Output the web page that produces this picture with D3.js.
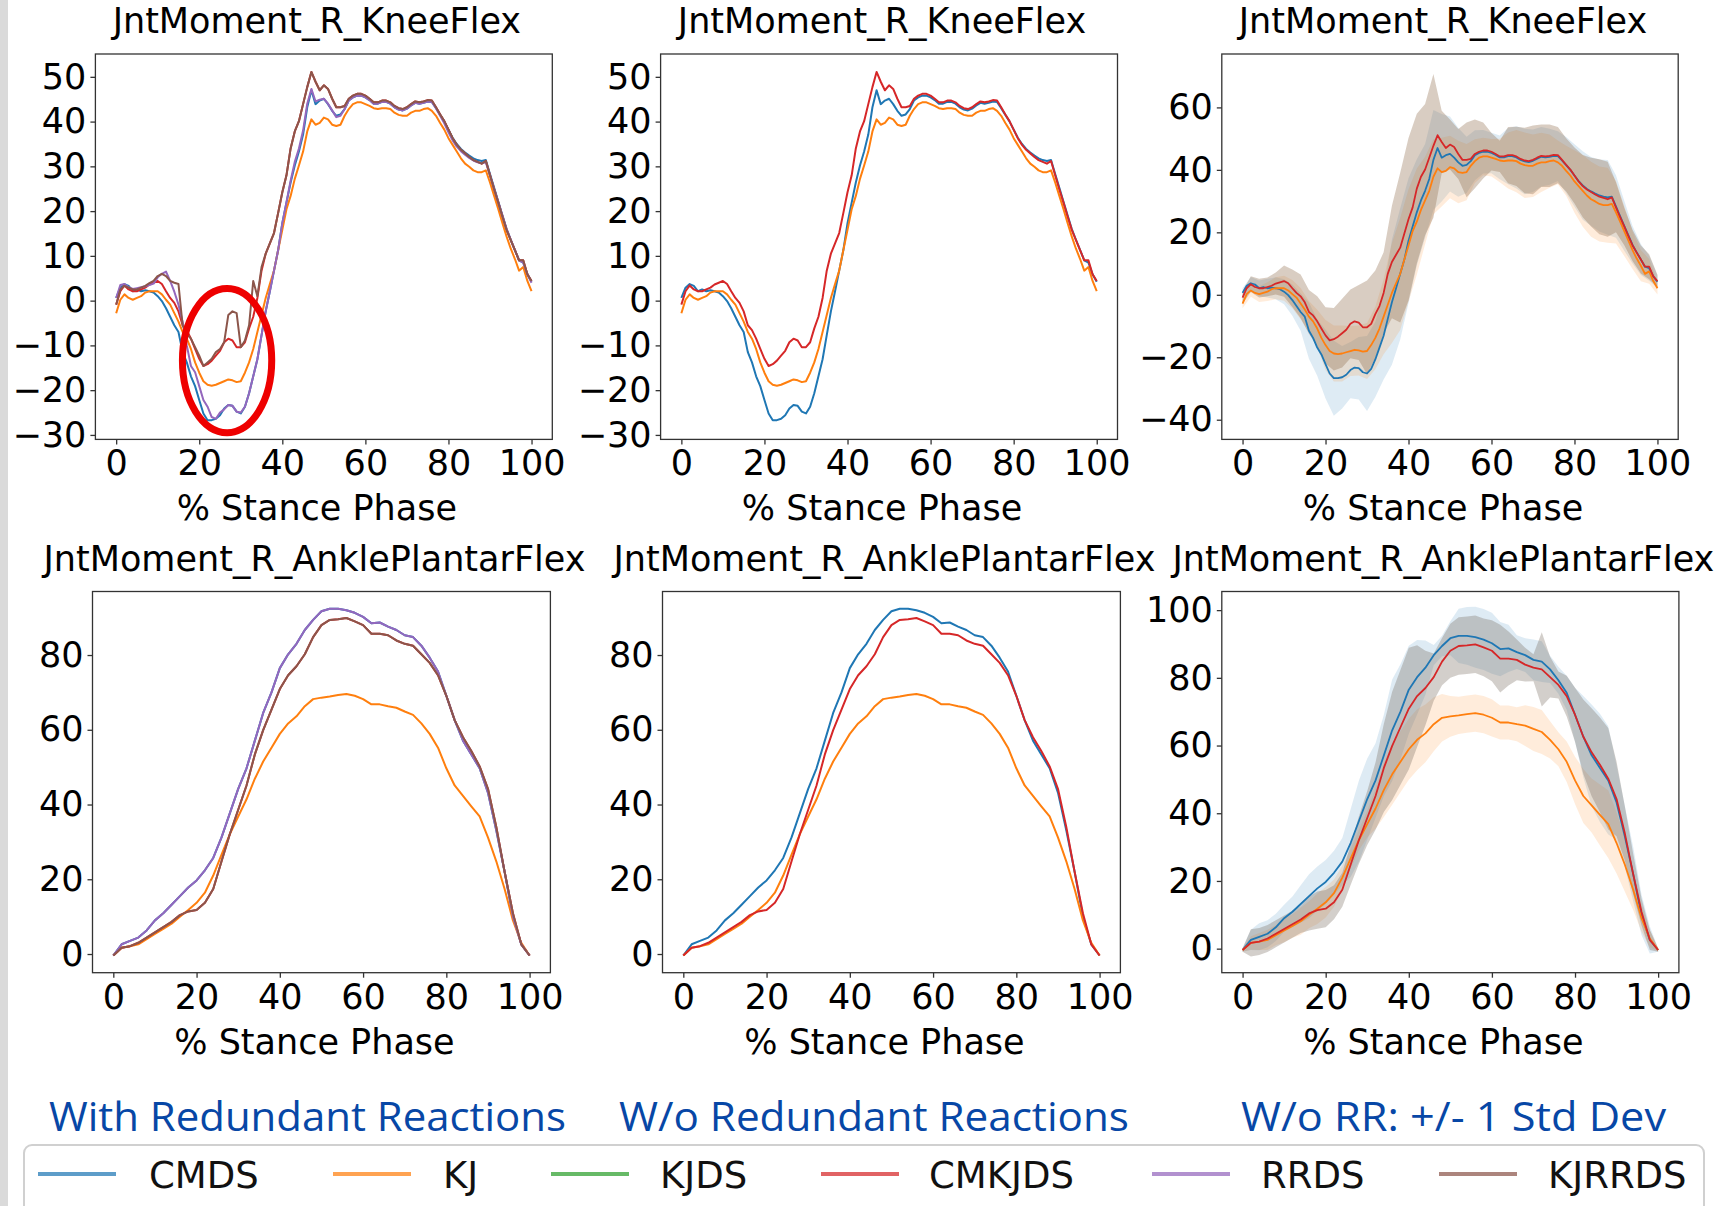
<!DOCTYPE html>
<html>
<head>
<meta charset="utf-8">
<script src="https://cdn.jsdelivr.net/npm/d3@7"></script>
<style>
  html, body { margin: 0; padding: 0; background: #fff; }
  svg { display: block; }
</style>
</head>
<body>
<div id="chart"></div>
<script>
// ---------------------------------------------------------------
// Data
// ---------------------------------------------------------------
const series_names = ['CMDS', 'KJ', 'KJDS', 'CMKJDS', 'RRDS', 'KJRRDS'];
const series_colors = ['#1f77b4', '#ff7f0e', '#2ca02c', '#d62728', '#9467bd', '#8c564b'];

const x_ticks = [0, 20, 40, 60, 80, 100];
const y_ticks_knee = [-30, -20, -10, 0, 10, 20, 30, 40, 50];
const y_ticks_knee_sd = [-40, -20, 0, 20, 40, 60];
const y_ticks_ankle = [0, 20, 40, 60, 80];
const y_ticks_ankle_sd = [0, 20, 40, 60, 80, 100];

const panel_titles = ['JntMoment_R_KneeFlex', 'JntMoment_R_AnklePlantarFlex'];
const column_titles = ['With Redundant Reactions', 'W/o Redundant Reactions', 'W/o RR: +/- 1 Std Dev'];
const x_label = '% Stance Phase';

// % stance grids
const pct_1 = d3.range(0, 101, 1);
const pct_2 = d3.range(0, 101, 2);

// knee flexion moment, every 1 %
const knee_cmds = [
  0.6, 2.9, 3.7, 3.3, 2.1, 2.5, 2.1, 2.3, 2.1, 1.8,
  1.0, -0.1, -1.7, -3.6, -5.5, -7.0, -11.5, -13.8, -16.9, -19.1,
  -22.2, -25.2, -26.7, -26.7, -26.4, -25.6, -24.1, -23.3, -23.5, -24.8,
  -25.2, -23.7, -20.7, -16.9, -13.1, -7.7, -2.4, 2.1, 6.7, 11.3,
  17.3, 21.9, 26.4, 30.2, 33.3, 37.1, 43.2, 47.0, 43.9, 44.7,
  45.1, 43.9, 42.4, 41.3, 41.6, 42.8, 44.7, 45.4, 45.8, 45.8,
  45.4, 44.8, 44.0, 44.0, 44.4, 44.4, 44.0, 43.2, 42.7, 42.5,
  42.9, 43.6, 44.2, 44.0, 44.2, 44.5, 44.4, 43.0, 41.5, 40.0,
  38.2, 36.4, 35.0, 33.9, 33.1, 32.4, 31.8, 31.4, 31.2, 31.4,
  28.3, 25.2, 22.1, 19.0, 16.0, 13.6, 11.3, 9.0, 8.5, 5.9, 4.2
];
const knee_kj = [
  -2.8, 0.2, 1.4, 0.6, 0.2, 0.6, 1.0, 1.8, 2.1, 2.1,
  2.1, 1.4, 0.2, -0.9, -2.8, -4.7, -7.0, -8.5, -10.8, -13.8,
  -16.1, -18.0, -18.8, -19.0, -18.8, -18.4, -18.0, -17.6, -17.8, -18.2,
  -18.0, -16.1, -13.8, -10.8, -7.0, -3.2, 0.6, 3.7, 6.7, 11.3,
  15.8, 20.4, 23.4, 27.2, 30.2, 33.3, 37.8, 40.5, 39.3, 39.7,
  40.9, 40.5, 39.3, 39.0, 39.3, 41.3, 42.8, 43.9, 44.3, 44.3,
  43.9, 43.5, 43.0, 42.8, 43.0, 43.0, 42.8, 42.0, 41.5, 41.3,
  41.3, 42.0, 42.4, 42.4, 42.8, 43.0, 42.4, 41.3, 39.7, 38.2,
  36.3, 34.8, 33.3, 31.8, 30.6, 29.9, 29.1, 28.7, 28.7, 29.1,
  26.4, 23.4, 20.4, 17.3, 14.3, 11.6, 9.3, 6.7, 7.5, 4.4, 2.1
];
const knee_cmkjds = [
  -0.9, 2.1, 3.4, 2.5, 2.1, 2.1, 2.5, 2.9, 3.6, 4.0,
  4.4, 3.7, 2.1, 0.6, -0.5, -2.4, -5.5, -6.6, -8.5, -10.8,
  -13.0, -14.6, -14.2, -13.4, -12.3, -11.2, -9.3, -8.5, -8.9, -10.4,
  -10.4, -9.3, -6.2, -3.6, 0.6, 6.7, 10.5, 12.8, 15.1, 19.6,
  24.2, 28.0, 34.0, 37.8, 40.1, 43.9, 47.7, 51.1, 48.9, 47.0,
  48.1, 47.3, 45.1, 43.2, 43.2, 43.5, 45.1, 45.8, 46.2, 46.2,
  45.8, 45.1, 44.3, 44.3, 44.7, 44.7, 44.3, 43.5, 43.0, 42.8,
  43.2, 43.9, 44.5, 44.3, 44.5, 44.8, 44.7, 43.2, 41.6, 40.1,
  38.2, 36.3, 34.8, 33.7, 32.9, 32.1, 31.4, 31.0, 30.6, 31.2,
  28.0, 24.9, 21.9, 18.8, 15.8, 13.5, 11.3, 9.0, 9.0, 5.9, 4.4
];
const knee_rrds = [
  0.6, 3.5, 3.7, 3.0, 2.6, 2.8, 3.0, 3.2, 3.5, 3.8,
  5.2, 6.0, 6.5, 4.4, 2.0, -0.9, -4.7, -10.0, -14.6, -16.0,
  -19.1, -22.2, -23.7, -26.0, -26.4, -25.0, -24.3, -23.3, -23.5, -24.8,
  -25.0, -23.7, -20.7, -16.9, -13.1, -7.7, -2.4, 2.1, 6.7, 11.3,
  17.3, 22.0, 26.8, 31.0, 34.0, 38.0, 44.0, 47.3, 44.5, 44.9,
  45.1, 44.0, 42.5, 41.0, 41.3, 42.8, 44.7, 45.4, 45.8, 45.8,
  45.4, 44.8, 44.0, 44.0, 44.4, 44.4, 44.0, 43.2, 42.7, 42.5,
  42.9, 43.6, 44.2, 44.0, 44.2, 44.5, 44.4, 43.0, 41.3, 39.6,
  37.6, 35.8, 34.4, 33.4, 32.6, 31.9, 31.3, 30.9, 30.7, 30.9,
  28.0, 25.0, 22.0, 19.0, 16.0, 13.6, 11.3, 9.0, 8.5, 5.9, 4.0
];
const knee_kjrrds = [
  -0.9, 2.5, 3.3, 2.9, 2.5, 2.5, 2.9, 3.3, 3.9, 4.4,
  5.5, 6.0, 5.5, 4.4, 4.0, 3.7, -5.5, -7.4, -8.5, -10.4,
  -12.3, -14.6, -13.8, -13.0, -11.5, -10.8, -9.3, -3.2, -2.4, -2.8,
  -10.4, -8.9, -5.5, 4.4, 1.0, 7.5, 10.5, 12.8, 15.1, 19.6,
  24.2, 28.0, 34.0, 37.8, 40.1, 43.9, 47.7, 51.1, 48.9, 47.0,
  48.1, 47.3, 45.1, 43.2, 43.2, 43.5, 45.1, 45.8, 46.2, 46.2,
  45.8, 45.1, 44.3, 44.3, 44.7, 44.7, 44.3, 43.5, 43.0, 42.8,
  43.2, 43.9, 44.5, 44.3, 44.5, 44.8, 44.7, 43.2, 41.6, 40.1,
  38.2, 36.3, 34.8, 33.7, 32.9, 32.1, 31.4, 31.0, 30.6, 31.2,
  28.0, 24.9, 21.9, 18.8, 15.8, 13.5, 11.3, 9.0, 9.0, 5.9, 4.4
];

// knee standard deviations, every 2 %
const knee_cmds_sd = [
  1.5, 2, 2.5, 3, 3.5, 4, 5, 6, 9, 9,
  11, 12, 10, 9, 10, 12, 12, 14, 20, 21,
  20, 17, 15, 16, 14, 12, 11, 9, 8, 7,
  6.5, 7, 9, 10, 10.5, 10, 9.5, 9, 8, 9,
  10, 11, 11, 11.5, 12, 10, 8, 6, 5, 4, 2
];
const knee_kj_sd = [
  1.5, 2, 2.5, 3, 3.5, 4, 4.5, 5, 5, 6,
  8, 9, 9, 8, 8, 9, 10, 12, 16, 18,
  18, 17, 14, 12, 11, 10, 10, 9, 7, 6,
  6, 7, 9, 10, 10.5, 10, 9.5, 8.5, 7, 8,
  10, 11.5, 12, 12, 12, 10, 8, 6, 5, 4, 2
];
const knee_cmkjds_sd = [
  2, 2.5, 3, 3, 3.5, 5, 6, 7, 7, 8,
  9, 10, 11, 11, 12, 15, 14, 13, 18, 24,
  26, 24, 21, 23, 10, 8, 8, 12, 11, 9,
  6, 5, 9, 9.5, 10.5, 11, 10, 10, 9, 8.5,
  9, 10, 11, 12, 12, 8, 6, 5, 4.5, 4, 2
];

// ankle plantarflexion moment, every 2 %
const ankle_cmds = [
  -0.4, 2.6, 3.5, 4.4, 6.3, 9.0, 10.9, 13.2, 15.5, 17.8,
  19.7, 22.4, 25.7, 31.2, 37.7, 44.2, 49.7, 57.1, 64.5, 70.0,
  76.5, 80.2, 83.0, 86.7, 89.4, 91.7, 92.4, 92.4, 92.0, 91.3,
  90.2, 88.5, 88.7, 87.6, 86.7, 85.3, 84.8, 82.5, 79.3, 75.6,
  69.1, 62.6, 57.1, 53.4, 49.7, 43.2, 33.1, 22.0, 10.0, 2.6, -0.4
];
const ankle_kj = [
  -0.4, 1.7, 2.1, 2.6, 4.0, 5.4, 6.7, 8.1, 10.0, 11.8,
  13.7, 16.4, 21.0, 26.6, 32.1, 36.8, 41.4, 46.9, 51.5, 55.2,
  58.9, 61.7, 63.6, 66.3, 68.2, 68.6, 68.9, 69.3, 69.6, 69.1,
  68.2, 66.8, 66.8, 66.3, 65.9, 64.9, 64.0, 61.7, 58.9, 55.2,
  49.7, 45.1, 42.3, 39.5, 36.8, 31.2, 24.8, 17.4, 9.0, 3.0, -0.4
];
const ankle_cmkjds = [
  -0.4, 1.7, 2.1, 3.0, 4.4, 5.8, 7.2, 8.6, 10.4, 11.4,
  11.8, 13.7, 17.4, 24.8, 32.1, 38.6, 45.1, 53.4, 59.9, 65.4,
  70.9, 74.6, 77.0, 80.2, 84.8, 88.0, 89.4, 89.6, 89.9, 89.0,
  88.0, 85.7, 85.7, 85.3, 83.9, 83.0, 82.5, 80.2, 77.9, 74.6,
  69.1, 62.6, 58.0, 54.3, 50.2, 44.2, 34.0, 22.0, 10.9, 2.6, -0.4
];
// with redundant reactions the ankle curves sit on top of the ones without
const ankle_rrds = ankle_cmds;
const ankle_kjrrds = ankle_cmkjds;

const ankle_cmds_sd = [
  0.5, 3, 4, 4, 4, 4, 4.5, 5.5, 6.5, 6.5,
  6.5, 6.5, 7, 10, 12, 12, 11, 12, 15, 14,
  13, 11, 8, 3, 3, 5, 8, 8.5, 9, 9,
  9, 8, 7, 5, 5, 6, 6, 4, 4, 5,
  8, 12, 15, 16, 16, 11, 9, 8, 6, 4, 0.5
];
const ankle_kj_sd = [
  0.5, 2, 2.5, 3, 3, 3.5, 3.5, 4, 4, 4.5,
  4.5, 4, 3.5, 3, 3, 4, 6, 8, 9, 9,
  9, 9, 8.5, 8, 7, 6, 5.5, 5.5, 5.5, 5.5,
  5.5, 5, 5, 5, 6, 6.5, 6.5, 5.5, 5, 6,
  7, 8, 8, 9, 10, 9, 8, 6, 4, 2.5, 0.5
];
const ankle_cmkjds_sd = [
  0.5, 4, 4, 4, 4, 4, 4, 4, 5, 5.5,
  5.5, 5, 5, 6, 7, 8, 10, 13, 16, 17,
  18, 15, 11, 7, 7, 8, 8.5, 8.5, 8.5, 8.5,
  9, 10, 8, 6, 5, 4, 11, 6, 4, 6,
  8, 11, 13, 14, 15, 11, 8, 6, 4, 3, 0.5
];

// ---------------------------------------------------------------
// Layout
// ---------------------------------------------------------------
const width = 1718, height = 1206;
const font = '"DejaVu Sans", sans-serif';
const top_row = [54, 439.4];
const bottom_row = [591.5, 972.7];

const svg = d3.select('#chart').append('svg')
  .attr('width', width)
  .attr('height', height);

svg.append('rect').attr('width', width).attr('height', height).attr('fill', '#fff');
svg.append('rect').attr('width', 8).attr('height', height).attr('fill', '#dadada');

// band tints: blue and orange are the series colours, the third band
// reads as a tan/grey mix in the figure
const band_knee = {CMDS: 'rgba(31,119,180,0.15)', KJ: 'rgba(255,127,14,0.15)', CMKJDS: 'rgba(140,104,70,0.33)'};
const band_ankle = {CMDS: 'rgba(31,119,180,0.15)', KJ: 'rgba(255,127,14,0.15)', CMKJDS: 'rgba(118,106,94,0.32)'};

const curve = (x, y, sd) => ({x, y, sd});
const panels = [
  {box: [95.4, top_row[0], 552.3, top_row[1]], title: panel_titles[0], y_domain: [-31, 55.1], y_ticks: y_ticks_knee,
   lines: {CMDS: curve(pct_1, knee_cmds), KJ: curve(pct_1, knee_kj), CMKJDS: curve(pct_1, knee_cmkjds),
           RRDS: curve(pct_1, knee_rrds), KJRRDS: curve(pct_1, knee_kjrrds)},
   ellipse: {cx: 26.7, cy: -13.4, rx: 10.75, ry: 16.1}},
  {box: [660.6, top_row[0], 1117.5, top_row[1]], title: panel_titles[0], y_domain: [-31, 55.1], y_ticks: y_ticks_knee,
   lines: {CMDS: curve(pct_1, knee_cmds), KJ: curve(pct_1, knee_kj), CMKJDS: curve(pct_1, knee_cmkjds)}},
  {box: [1221.8, top_row[0], 1678.2, top_row[1]], title: panel_titles[0], y_domain: [-46.3, 77.1], y_ticks: y_ticks_knee_sd, thin: true,
   bands: band_knee,
   lines: {CMDS: curve(pct_1, knee_cmds, knee_cmds_sd), KJ: curve(pct_1, knee_kj, knee_kj_sd),
           CMKJDS: curve(pct_1, knee_cmkjds, knee_cmkjds_sd)}},
  {box: [92.5, bottom_row[0], 550.4, bottom_row[1]], title: panel_titles[1], y_domain: [-5, 97], y_ticks: y_ticks_ankle,
   lines: {CMDS: curve(pct_2, ankle_cmds), KJ: curve(pct_2, ankle_kj), CMKJDS: curve(pct_2, ankle_cmkjds),
           RRDS: curve(pct_2, ankle_rrds), KJRRDS: curve(pct_2, ankle_kjrrds)}},
  {box: [662.5, bottom_row[0], 1120.4, bottom_row[1]], title: panel_titles[1], y_domain: [-5, 97], y_ticks: y_ticks_ankle,
   lines: {CMDS: curve(pct_2, ankle_cmds), KJ: curve(pct_2, ankle_kj), CMKJDS: curve(pct_2, ankle_cmkjds)}},
  {box: [1221.8, bottom_row[0], 1678.9, bottom_row[1]], title: panel_titles[1], y_domain: [-7.1, 105.5], y_ticks: y_ticks_ankle_sd, thin: true,
   bands: band_ankle,
   lines: {CMDS: curve(pct_2, ankle_cmds, ankle_cmds_sd), KJ: curve(pct_2, ankle_kj, ankle_kj_sd),
           CMKJDS: curve(pct_2, ankle_cmkjds, ankle_cmkjds_sd)}}
];

panels.forEach(draw_panel);
draw_footer();

function fmt(d) {
  return d < 0 ? '\u2212' + Math.abs(d) : String(d);
}

function draw_panel(p) {
  const [x0, y0, x1, y1] = p.box;
  const x = d3.scaleLinear().domain([-5, 105]).range([x0, x1]);
  const y = d3.scaleLinear().domain(p.y_domain).range([y1, y0]);
  const g = svg.append('g');

  const clip_id = 'clip' + Math.round(x0) + '_' + Math.round(y0);
  g.append('clipPath').attr('id', clip_id)
    .append('rect').attr('x', x0).attr('y', y0).attr('width', x1 - x0).attr('height', y1 - y0);
  const plot = g.append('g').attr('clip-path', `url(#${clip_id})`);

  // +/- 1 SD bands
  series_names.forEach(name => {
    const s = p.lines[name];
    if (!s || !s.sd) return;
    const step = s.x.length === 101 ? 2 : 1;
    const band = s.sd.map((sd, i) => ({x: pct_2[i], m: s.y[i * step], sd}));
    plot.append('path')
      .datum(band)
      .attr('fill', p.bands[name])
      .attr('d', d3.area()
        .x(d => x(d.x))
        .y0(d => y(d.m - d.sd))
        .y1(d => y(d.m + d.sd)));
  });

  // mean curves in legend order
  series_names.forEach((name, k) => {
    const s = p.lines[name];
    if (!s) return;
    plot.append('path')
      .datum(s.y.map((v, i) => [s.x[i], v]))
      .attr('fill', 'none')
      .attr('stroke', series_colors[k])
      .attr('stroke-width', p.thin ? 1.8 : 2)
      .attr('stroke-linejoin', 'round')
      .attr('d', d3.line().x(d => x(d[0])).y(d => y(d[1])));
  });

  if (p.ellipse) {
    const e = p.ellipse;
    g.append('ellipse')
      .attr('cx', x(e.cx)).attr('cy', y(e.cy))
      .attr('rx', x(e.rx) - x(0)).attr('ry', y(0) - y(e.ry))
      .attr('fill', 'none')
      .attr('stroke', '#ee0000')
      .attr('stroke-width', 7);
  }

  // axes
  const x_axis = g.append('g')
    .attr('transform', `translate(0,${y1})`)
    .call(d3.axisBottom(x).tickValues(x_ticks).tickSize(5).tickPadding(6).tickSizeOuter(0).tickFormat(fmt));
  const y_axis = g.append('g')
    .attr('transform', `translate(${x0},0)`)
    .call(d3.axisLeft(y).tickValues(p.y_ticks).tickSize(5).tickPadding(4).tickSizeOuter(0).tickFormat(fmt));

  [x_axis, y_axis].forEach(a => {
    a.select('.domain').remove();
    a.selectAll('line').attr('stroke', '#333').attr('stroke-width', 1.3);
    a.selectAll('text').attr('font-family', font).attr('font-size', 35).attr('fill', '#000');
  });

  g.append('rect')
    .attr('x', x0).attr('y', y0).attr('width', x1 - x0).attr('height', y1 - y0)
    .attr('fill', 'none').attr('stroke', '#333').attr('stroke-width', 1.3);

  const cx = (x0 + x1) / 2 - 7;
  g.append('text')
    .attr('x', cx).attr('y', y0 - 21)
    .attr('text-anchor', 'middle')
    .attr('font-family', font).attr('font-size', 35)
    .text(p.title);

  g.append('text')
    .attr('x', cx).attr('y', y1 + 81)
    .attr('text-anchor', 'middle')
    .attr('font-family', font).attr('font-size', 35)
    .text(x_label);
}

function draw_footer() {
  const title_x = [49, 619, 1241];
  const title_w = [517, 510, 425];
  column_titles.forEach((t, i) => {
    svg.append('text')
      .attr('x', title_x[i]).attr('y', 1131)
      .attr('font-family', '"Open Sans", sans-serif')
      .attr('font-size', 40)
      .attr('fill', '#0747a6')
      .attr('textLength', title_w[i])
      .attr('lengthAdjust', 'spacingAndGlyphs')
      .text(t);
  });

  svg.append('rect')
    .attr('x', 24).attr('y', 1145).attr('width', 1680).attr('height', 100)
    .attr('rx', 8)
    .attr('fill', '#fff').attr('stroke', '#d0d0d0').attr('stroke-width', 2);

  const sample_x = [38, 333, 551, 821, 1152, 1439];
  const label_x = [149, 443, 660, 929, 1261, 1548];
  series_names.forEach((name, i) => {
    svg.append('line')
      .attr('x1', sample_x[i]).attr('x2', sample_x[i] + 78)
      .attr('y1', 1174).attr('y2', 1174)
      .attr('stroke', series_colors[i])
      .attr('stroke-opacity', 0.72)
      .attr('stroke-width', 4);
    svg.append('text')
      .attr('x', label_x[i]).attr('y', 1188)
      .attr('font-family', font).attr('font-size', 37)
      .attr('fill', '#111')
      .text(name);
  });
}
</script>
</body>
</html>
